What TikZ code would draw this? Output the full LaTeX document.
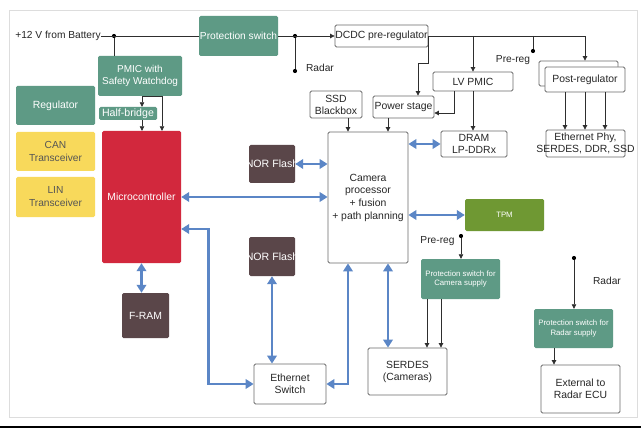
\documentclass[tikz,border=0pt]{standalone}
\usepackage{fontspec}
\setmainfont{Liberation Sans}
\usetikzlibrary{arrows.meta}
\definecolor{grn}{HTML}{5E9A85}
\definecolor{olv}{HTML}{6F9833}
\definecolor{redc}{HTML}{D2283D}
\definecolor{brn}{HTML}{5A4649}
\definecolor{yel}{HTML}{F8D95B}
\definecolor{blu}{HTML}{5B86C6}
\definecolor{bord}{HTML}{6A6A6A}
\definecolor{txt}{HTML}{262626}
\definecolor{ytxt}{HTML}{555555}
\definecolor{lnc}{HTML}{2E2E2E}
\definecolor{framec}{HTML}{DDDDDD}
\begin{document}
\begin{tikzpicture}[x=1pt,y=-1pt,
  base/.style={inner sep=0pt, align=center, rounded corners=1.5pt},
  bbox/.style={base, draw=bord, fill=white, line width=0.8pt, text=txt, font=\fontsize{10.4}{12}\selectfont},
  gbox/.style={base, fill=grn, text=white, font=\fontsize{10.2}{11.8}\selectfont},
  sgbox/.style={base, fill=grn, text=white, font=\fontsize{7.8}{9.5}\selectfont},
  ybox/.style={base, fill=yel, text=ytxt, font=\fontsize{10.2}{13}\selectfont},
  nbox/.style={base, fill=brn, text=white, font=\fontsize{10.4}{12}\selectfont},
  wt/.style={inner sep=0pt, text=white, font=\fontsize{10.6}{12}\selectfont},
  lbl/.style={inner sep=0pt, text=txt, font=\fontsize{10.2}{12}\selectfont},
  lnk/.style={draw=lnc, line width=0.7pt},
  arr/.style={lnk, -{Triangle[length=4.5pt,width=4.5pt]}},
  barr/.style={draw=blu, line width=2.6pt, {Triangle[length=8pt,width=9.5pt]}-{Triangle[length=8pt,width=9.5pt]}},
  dot/.style={circle, fill=black, inner sep=0pt, minimum size=4.2pt}
]
\useasboundingbox (0,0) rectangle (641,428);
\fill[white] (0,0) rectangle (641,428);
\draw[framec, line width=0.8pt] (9,10) rectangle (637,417);
\fill[black] (0,425.5) rectangle (641,428);

% ---- nodes ----
\node[lbl] (bat) at (58,36) {+12 V from Battery};
\node[gbox, minimum width=79pt, minimum height=40pt] (prot) at (238.5,36) {Protection switch};
\node[bbox, minimum width=93pt, minimum height=22pt] (dcdc) at (381.5,36) {DCDC pre-regulator};
\node[gbox, minimum width=84pt, minimum height=40pt, font=\fontsize{10}{11.7}\selectfont] (pmic) at (140,76) {PMIC with\\Safety Watchdog};
\node[gbox, minimum width=58pt, minimum height=13pt, font=\fontsize{10.6}{12}\selectfont] (halfb) at (128,113.5) {Half-bridge};
\node[gbox, minimum width=79pt, minimum height=39pt, font=\fontsize{10.4}{12}\selectfont] (reg) at (55.5,105.5) {Regulator};
\node[ybox, minimum width=79pt, minimum height=39pt] (can) at (55.5,151.5) {CAN\\Transceiver};
\node[ybox, minimum width=79pt, minimum height=40pt] (lin) at (55.5,197) {LIN\\Transceiver};
\node[base, fill=redc, text=white, font=\fontsize{10.4}{12}\selectfont, minimum width=79pt, minimum height=132pt] (mcu) at (141.5,197) {Microcontroller};
\node[nbox, minimum width=47pt, minimum height=45pt] (fram) at (145.5,315.5) {F-RAM};
\node[nbox, minimum width=46pt, minimum height=38pt] (nor1) at (272,164) {};
\node[wt] (nor1t) at (nor1) {NOR Flash};
\node[nbox, minimum width=46pt, minimum height=39pt] (nor2) at (272,256.5) {};
\node[wt] (nor2t) at (nor2) {NOR Flash};
\node[bbox, minimum width=72pt, minimum height=40pt] (eth) at (290,384) {Ethernet\\Switch};
\node[bbox, minimum width=80pt, minimum height=131pt, font=\fontsize{10.4}{12.7}\selectfont] (cam) at (368,197.5) {Camera\\processor\\+ fusion\\+ path planning};
\node[bbox, minimum width=52pt, minimum height=27pt] (ssd) at (336,104.5) {SSD\\Blackbox};
\node[bbox, minimum width=61pt, minimum height=22pt] (pwr) at (403.5,107) {Power stage};
\node[bbox, minimum width=80pt, minimum height=19pt] (lvpmic) at (473,81.5) {LV PMIC};
\node[bbox, minimum width=66pt, minimum height=26pt] (dram) at (474,144) {DRAM\\LP-DDRx};
\node[bbox, minimum width=79pt, minimum height=25pt] (postB) at (578.5,73.5) {};
\node[bbox, minimum width=80pt, minimum height=25pt] (post) at (585,79.5) {Post-regulator};
\node[bbox, minimum width=79pt, minimum height=27pt] (ephy) at (585.5,143.5) {};
\node[lbl, align=center, font=\fontsize{10.4}{12}\selectfont] (ephyt) at (ephy) {Ethernet Phy,\\SERDES, DDR, SSD};
\node[base, fill=olv, text=white, font=\fontsize{7.8}{9.5}\selectfont, minimum width=79pt, minimum height=32pt] (tpm) at (504.5,215) {TPM};
\node[sgbox, minimum width=79pt, minimum height=40pt] (pscam) at (460.5,279) {Protection switch for\\Camera supply};
\node[bbox, minimum width=79pt, minimum height=47pt] (serdes) at (407.5,371.5) {SERDES\\(Cameras)};
\node[sgbox, minimum width=79pt, minimum height=39pt] (psradar) at (573.5,328.5) {Protection switch for\\Radar supply};
\node[bbox, minimum width=79pt, minimum height=48pt] (ext) at (580.5,389) {External to\\Radar ECU};

% labels and dots
\node[lbl] (radar1) at (320,68) {Radar};
\node[lbl] (prereg1) at (513,60) {Pre-reg};
\node[lbl] (prereg2) at (437.5,241) {Pre-reg};
\node[lbl] (radar2) at (607,281) {Radar};
\node[dot] (d1) at (114,36) {};
\node[dot] (d2) at (295,36) {};
\node[dot] (d3) at (295,71) {};
\node[dot] (d4) at (533,51) {};
\node[dot] (d5) at (461,236) {};
\node[dot] (d6) at (574,258) {};

% ---- thin connectors ----
\draw[lnk] (bat.east) -- (prot.west);
\draw[lnk] (d1) -- (d1 |- pmic.north);
\draw[arr] (prot.east) -- (dcdc.west);
\draw[lnk] (d2) -- (d3);
\draw[arr] (dcdc.east) -| ([xshift=6.5pt]postB.north);
\draw[arr] (lvpmic.north |- dcdc.east) -- (lvpmic.north);
\draw[lnk] (d4 |- dcdc.east) -- (d4);
\draw[arr] (dcdc.east) -- ++(0,27) -| ([xshift=14.5pt]pwr.north);
\draw[arr] ([xshift=-19pt]lvpmic.south) |- ([yshift=-6pt]pwr.east);
\draw[arr] (lvpmic.south) -- (lvpmic.south |- dram.north);
\foreach \dx in {-20,0,20}
  \draw[arr] ([xshift=\dx pt]post.south) -- ([xshift=\dx pt]post.south |- ephy.north);
\draw[arr] ([xshift=12pt]ssd.south) -- ([xshift=12pt]ssd.south |- cam.north);
\draw[arr] ([xshift=-15.5pt]pwr.south) -- ([xshift=-15.5pt]pwr.south |- cam.north);
\draw[lnk] ([xshift=2pt]pmic.south) -- ([xshift=22pt]pmic.south);
\draw[arr] ([xshift=2pt]pmic.south) -- ([xshift=2pt]pmic.south |- halfb.north);
\draw[arr] ([xshift=22pt]pmic.south) -- ([xshift=22pt]pmic.south |- mcu.north);
\draw[arr] ([xshift=14pt]halfb.south) -- ([xshift=14pt]halfb.south |- mcu.north);
\draw[arr] (d5) -- (d5 |- pscam.north);
\draw[arr] ([xshift=-33.5pt]pscam.south) -- ([xshift=-33.5pt]pscam.south |- serdes.north);
\draw[arr] ([xshift=-19.5pt]pscam.south) -- ([xshift=-19.5pt]pscam.south |- serdes.north);
\draw[arr] (d6) -- (d6 |- psradar.north);
\draw[arr] ([xshift=-19.5pt]psradar.south) -- ([xshift=-19.5pt]psradar.south |- ext.north);

% ---- blue buses ----
\draw[barr] (mcu.east) -- (mcu.east -| cam.west);
\draw[barr] (nor1.east) -- (nor1.east -| cam.west);
\draw[barr] ([yshift=-32pt]mcu.east) -- ++(27,0) |- (eth.west);
\draw[barr] (nor2.south) -- (nor2.south |- eth.north);
\draw[barr] ([xshift=-20pt]cam.south) |- (eth.east);
\draw[barr] ([xshift=20pt]cam.south) -- ([xshift=20pt]cam.south |- serdes.north);
\draw[barr] (mcu.south) -- (mcu.south |- fram.north);
\draw[barr] (cam.east |- dram.west) -- (dram.west);
\draw[barr] (cam.east |- tpm.west) -- (tpm.west);
\end{tikzpicture}
\end{document}
